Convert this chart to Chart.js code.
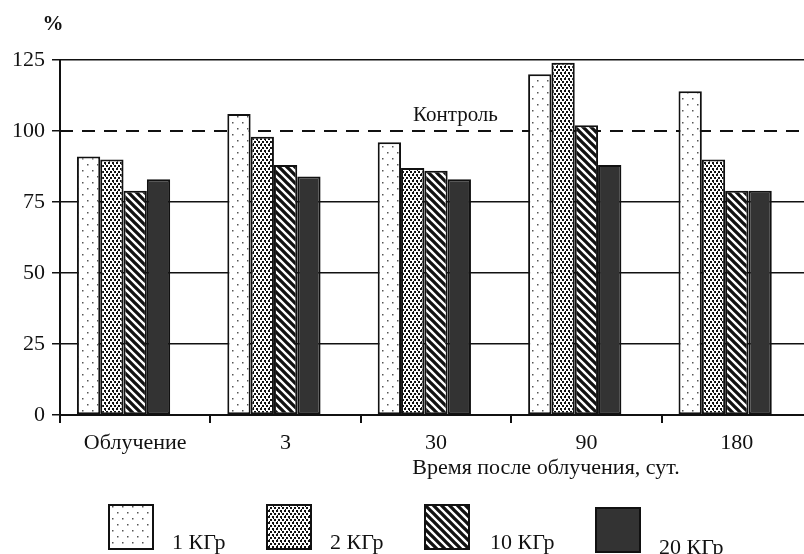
<!DOCTYPE html>
<html>
<head>
<meta charset="utf-8">
<script src="https://cdn.jsdelivr.net/npm/chart.js@4.4.1/dist/chart.umd.min.js"></script>
<style>
html, body { margin: 0; padding: 0; overflow: hidden; background: #fff; }
canvas { display: block; }
</style>
</head>
<body>
<canvas id="barChartCanvas" width="812" height="554"></canvas>
<script>
// data
var categories = ['Облучение', '3', '30', '90', '180'];
var dose1 = [91, 106, 96, 120, 114];
var dose2 = [90, 98, 87, 124, 90];
var dose10 = [79, 88, 86, 102, 79];
var dose20 = [83, 84, 83, 88, 79];
var seriesNames = ['1 КГр', '2 КГр', '10 КГр', '20 КГр'];
var yTicks = [0, 25, 50, 75, 100, 125];
var controlLevel = 100;
var controlLabel = 'Контроль';
var xTitle = 'Время после облучения, сут.';
var yUnit = '%';

var FONT = "'Liberation Serif', 'Times New Roman', serif";
var INK = '#111';

function makePattern(kind) {
    var c = document.createElement('canvas');
    var g = c.getContext('2d');
    if (kind == 'sparse') {
        c.width = 10; c.height = 12;
        g.fillStyle = '#fff'; g.fillRect(0, 0, 10, 12);
        g.fillStyle = '#555';
        g.fillRect(2, 2, 1.5, 1.5);
        g.fillRect(7, 8, 1.5, 1.5);
    } else if (kind == 'dense') {
        c.width = 8; c.height = 6;
        g.fillStyle = '#fff'; g.fillRect(0, 0, 8, 6);
        g.fillStyle = '#111';
        g.fillRect(0, 0, 2, 2); g.fillRect(4, 0, 2, 2);
        g.fillRect(2, 3, 2, 2); g.fillRect(6, 3, 2, 2);
        g.fillRect(1, 2, 1, 1); g.fillRect(5, 5, 1, 1);
    } else {
        c.width = 8; c.height = 8;
        g.fillStyle = '#fff'; g.fillRect(0, 0, 8, 8);
        g.strokeStyle = '#111'; g.lineWidth = 3.3;
        g.beginPath();
        g.moveTo(-4, -4); g.lineTo(12, 12);
        g.moveTo(-4, 4); g.lineTo(4, 12);
        g.moveTo(4, -4); g.lineTo(12, 4);
        g.stroke();
    }
    return g.createPattern(c, 'repeat');
}

var fills = [makePattern('sparse'), makePattern('dense'), makePattern('stripes'), '#333'];
var seriesData = [dose1, dose2, dose10, dose20];

var datasets = seriesData.map(function (d, i) {
    return {
        label: seriesNames[i],
        data: d,
        backgroundColor: fills[i],
        borderColor: INK,
        borderWidth: 2,
        borderSkipped: false
    };
});
// empty slot so the groups sit left of the category centre, like the original
datasets.push({ label: '', data: categories.map(function () { return null; }) });

var extras = {
    id: 'extras',
    beforeDatasetsDraw: function (chart) {
        var ctx = chart.ctx, a = chart.chartArea;
        var y = chart.scales.y.getPixelForValue(controlLevel);
        ctx.save();
        ctx.strokeStyle = INK;
        ctx.lineWidth = 2;
        ctx.setLineDash([13, 9]);
        ctx.beginPath();
        ctx.moveTo(a.left, y);
        ctx.lineTo(a.right, y);
        ctx.stroke();
        ctx.restore();
    },
    afterDraw: function (chart) {
        var ctx = chart.ctx;
        var y = chart.scales.y.getPixelForValue(controlLevel);
        ctx.save();
        ctx.fillStyle = INK;
        ctx.font = '21px ' + FONT;
        ctx.textBaseline = 'middle';
        ctx.textAlign = 'left';
        ctx.fillText(controlLabel, 413, y - 16);
        ctx.textAlign = 'center';
        ctx.font = 'bold 21px ' + FONT;
        ctx.fillText(yUnit, 53, 25);
        ctx.font = '22px ' + FONT;
        ctx.fillText(xTitle, 546, 468);

        // legend with big swatches
        var boxX = [109, 267, 425, 596];
        var boxY = [505, 505, 505, 508];
        var textX = [172, 330, 490, 659];
        var textY = [549, 549, 549, 554];
        ctx.textAlign = 'left';
        ctx.textBaseline = 'alphabetic';
        ctx.font = '22px ' + FONT;
        for (var i = 0; i < seriesNames.length; i++) {
            ctx.fillStyle = fills[i];
            ctx.fillRect(boxX[i], boxY[i], 44, 44);
            ctx.strokeStyle = INK;
            ctx.lineWidth = 2;
            ctx.strokeRect(boxX[i], boxY[i], 44, 44);
            ctx.fillStyle = INK;
            ctx.fillText(seriesNames[i], textX[i], textY[i]);
        }
        ctx.restore();
    }
};

var ctx = document.getElementById('barChartCanvas').getContext('2d');
var myBarChart = new Chart(ctx, {
    type: 'bar',
    data: { labels: categories, datasets: datasets },
    plugins: [extras],
    options: {
        responsive: false,
        animation: false,
        layout: { padding: { top: 60, left: 0, right: 0, bottom: 0 } },
        datasets: { bar: { barPercentage: 1, categoryPercentage: 0.775 } },
        plugins: { legend: { display: false }, tooltip: { enabled: false } },
        scales: {
            x: {
                afterFit: function (s) { s.height = 139; },
                grid: { offset: true, drawOnChartArea: false, tickLength: 8, color: INK, lineWidth: 2 },
                border: { display: true, color: INK, width: 2 },
                ticks: { color: INK, font: { family: FONT, size: 22 }, padding: 7, maxRotation: 0 }
            },
            y: {
                min: 0,
                max: 125,
                afterFit: function (s) { s.width = 60; },
                afterBuildTicks: function (s) { s.ticks = yTicks.map(function (v) { return { value: v }; }); },
                grid: {
                    color: function (c) { return c.tick && c.tick.value == controlLevel ? 'rgba(0,0,0,0)' : INK; },
                    tickColor: INK,
                    tickLength: 8,
                    lineWidth: 1.5
                },
                border: { display: true, color: INK, width: 2 },
                ticks: { color: INK, font: { family: FONT, size: 22 }, padding: 7 }
            }
        }
    }
});
</script>
</body>
</html>
